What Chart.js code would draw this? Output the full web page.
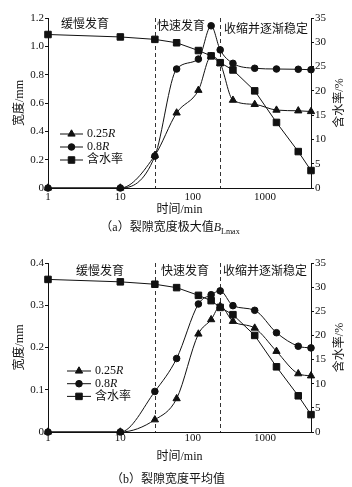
<!DOCTYPE html>
<html>
<head>
<meta charset="utf-8">
<script src="https://cdn.jsdelivr.net/npm/chart.js@4.4.1/dist/chart.umd.min.js"></script>
<style>
  body { margin: 0; background: #fff; }
  #wrap { position: relative; width: 352px; height: 487px; overflow: hidden; }
  canvas { position: absolute; left: 0; }
  .cap { position: absolute; left: 0; width: 352px; text-align: center; font: 12px "Liberation Serif", "Noto Sans CJK SC"; color: #111; }
  .cap sub { font-size: 8px; }
</style>
</head>
<body>
<div id="wrap">
  <canvas id="chartA" width="352" height="218" style="top:0"></canvas>
  <div class="cap" style="top:217px; left:-6px">（a）裂隙宽度极大值<i>B</i><sub>Lmax</sub></div>
  <canvas id="chartB" width="352" height="220" style="top:245px"></canvas>
  <div class="cap" style="top:469px; left:-8px">（b）裂隙宽度平均值</div>
</div>
<script>
// time (min)
var times = [1, 10, 30, 60, 120, 180, 240, 360, 720, 1440, 2880, 4320];
// water content (%), same for both panels
var moisture = [31.6, 31.1, 30.6, 29.9, 28.3, 27.2, 25.8, 24.3, 20.0, 13.5, 7.5, 3.6];
// (a) maximum crack width (mm)
var maxR025 = [0, 0, 0.23, 0.53, 0.69, 0.93, 0.88, 0.62, 0.59, 0.55, 0.545, 0.54];
var maxR08 = [0, 0, 0.225, 0.84, 0.91, 1.145, 0.975, 0.88, 0.845, 0.84, 0.838, 0.835];
// (b) mean crack width (mm)
var avgR025 = [0, 0, 0.029, 0.079, 0.232, 0.266, 0.298, 0.262, 0.246, 0.191, 0.138, 0.133];
var avgR08 = [0, 0, 0.096, 0.174, 0.303, 0.325, 0.334, 0.299, 0.288, 0.235, 0.203, 0.199];

var xTicks = [1, 10, 100, 1000];
var stageBounds = [30, 240];
var stageNames = ["缓慢发育", "快速发育", "收缩并逐渐稳定"];
var seriesNames = ["0.25", "0.8", "含水率"];

var FONT = '"Liberation Serif", "Noto Sans CJK SC"';
var INK = "#111";

function pts(vals) {
  return vals.map(function (v, i) { return { x: times[i], y: v }; });
}

function makeOverlay(o) {
  return {
    id: "overlay",
    beforeDatasetsDraw: function (chart) {
      var ctx = chart.ctx, a = chart.chartArea, xs = chart.scales.x;
      ctx.save();
      ctx.strokeStyle = "#333";
      ctx.lineWidth = 1;
      ctx.setLineDash([4, 3]);
      stageBounds.forEach(function (t) {
        var px = Math.round(xs.getPixelForValue(t)) + 0.5;
        ctx.beginPath();
        ctx.moveTo(px, a.top);
        ctx.lineTo(px, a.bottom);
        ctx.stroke();
      });
      ctx.restore();
    },
    afterDraw: function (chart) {
      var ctx = chart.ctx, a = chart.chartArea;
      ctx.save();
      ctx.fillStyle = INK;
      ctx.textBaseline = "middle";
      ctx.textAlign = "center";
      ctx.font = "12px " + FONT;
      stageNames.forEach(function (s, i) {
        ctx.fillText(s, o.stages[i][0], o.stages[i][1]);
      });
      // right axis title, reads bottom to top like the left one
      ctx.translate(340, (a.top + a.bottom) / 2);
      ctx.rotate(-Math.PI / 2);
      ctx.fillText("含水率/%", 0, 0);
      ctx.restore();

      // legend: line + marker + label
      var styles = ["triangle", "circle", "rect"];
      var radii = [4.2, 3.3, 4.6];
      ctx.save();
      ctx.strokeStyle = INK;
      ctx.fillStyle = INK;
      ctx.lineWidth = 1;
      for (var i = 0; i < 3; i++) {
        var y = o.legend.y + i * o.legend.gap;
        ctx.beginPath();
        ctx.moveTo(o.legend.x0, y);
        ctx.lineTo(o.legend.x1, y);
        ctx.stroke();
        Chart.helpers.drawPoint(ctx, { pointStyle: styles[i], radius: radii[i], rotation: 0, borderWidth: 1 },
          (o.legend.x0 + o.legend.x1) / 2, y);
        ctx.textAlign = "left";
        ctx.textBaseline = "middle";
        ctx.font = "12px " + FONT;
        var tx = o.legend.x1 + 4;
        ctx.fillText(seriesNames[i], tx, y);
        if (i < 2) {
          var w = ctx.measureText(seriesNames[i]).width;
          ctx.font = "italic 12px " + FONT;
          ctx.fillText("R", tx + w, y);
        }
      }
      ctx.restore();
    }
  };
}

function makeChart(id, d025, d08, yMax, yStep, xAxisH, xPad, overlay) {
  var ds = function (label, data, style, r, axis, smooth) {
    return {
      label: label,
      data: pts(data),
      yAxisID: axis,
      borderColor: INK,
      backgroundColor: INK,
      borderWidth: 1,
      pointStyle: style,
      pointRadius: r,
      pointBorderWidth: 1,
      cubicInterpolationMode: smooth ? "monotone" : "default",
      tension: 0,
      clip: false
    };
  };
  return new Chart(document.getElementById(id), {
    type: "line",
    data: {
      datasets: [
        ds("0.25R", d025, "triangle", 4.2, "y", true),
        ds("0.8R", d08, "circle", 3.3, "y", true),
        ds("含水率", moisture, "rect", 4.6, "y1", false)
      ]
    },
    options: {
      responsive: false,
      animation: false,
      layout: { padding: { top: 18, left: 0, right: 0, bottom: 0 } },
      plugins: { legend: { display: false }, tooltip: { enabled: false } },
      scales: {
        x: {
          type: "logarithmic",
          min: 1,
          max: 4320,
          afterBuildTicks: function (s) { s.ticks = xTicks.map(function (v) { return { value: v }; }); },
          afterFit: function (s) { s.height = xAxisH; },
          grid: { display: false, drawTicks: false },
          border: { display: true, color: INK, width: 1 },
          ticks: { color: INK, padding: xPad, maxRotation: 0, font: { family: FONT, size: 11 },
            callback: function (v) { return String(v); } },
          title: { display: true, text: "时间/min", color: INK, font: { family: FONT, size: 12 },
            padding: { top: 0, bottom: 1 } }
        },
        y: {
          position: "left",
          min: 0,
          max: yMax,
          afterFit: function (s) { s.width = 48; },
          ticks: { stepSize: yStep, color: INK, padding: 1, font: { family: FONT, size: 11 },
            callback: function (v) { return v === 0 ? "0" : v.toFixed(1); } },
          grid: { drawOnChartArea: false, drawTicks: true, tickLength: 3, color: INK },
          border: { display: true, color: INK, width: 1 },
          title: { display: true, text: "宽度/mm", color: INK, font: { family: FONT, size: 12 },
            padding: { top: 13, bottom: 0 } }
        },
        y1: {
          position: "right",
          min: 0,
          max: 35,
          afterFit: function (s) { s.width = 41; },
          ticks: { stepSize: 5, color: INK, padding: 1, font: { family: FONT, size: 11 } },
          grid: { drawOnChartArea: false, drawTicks: true, tickLength: 3, color: INK },
          border: { display: true, color: INK, width: 1 },
          title: { display: false }
        }
      }
    },
    plugins: [makeOverlay(overlay)]
  });
}

makeChart("chartA", maxR025, maxR08, 1.2, 0.2, 30, 3, {
  stages: [[85, 25], [181, 27], [266, 30]],
  legend: { x0: 60, x1: 83, y: 134, gap: 13 }
});
makeChart("chartB", avgR025, avgR08, 0.4, 0.1, 33, 0, {
  stages: [[100, 27], [185, 27], [265, 27]],
  legend: { x0: 67, x1: 91, y: 126, gap: 12.7 }
});
</script>
</body>
</html>
